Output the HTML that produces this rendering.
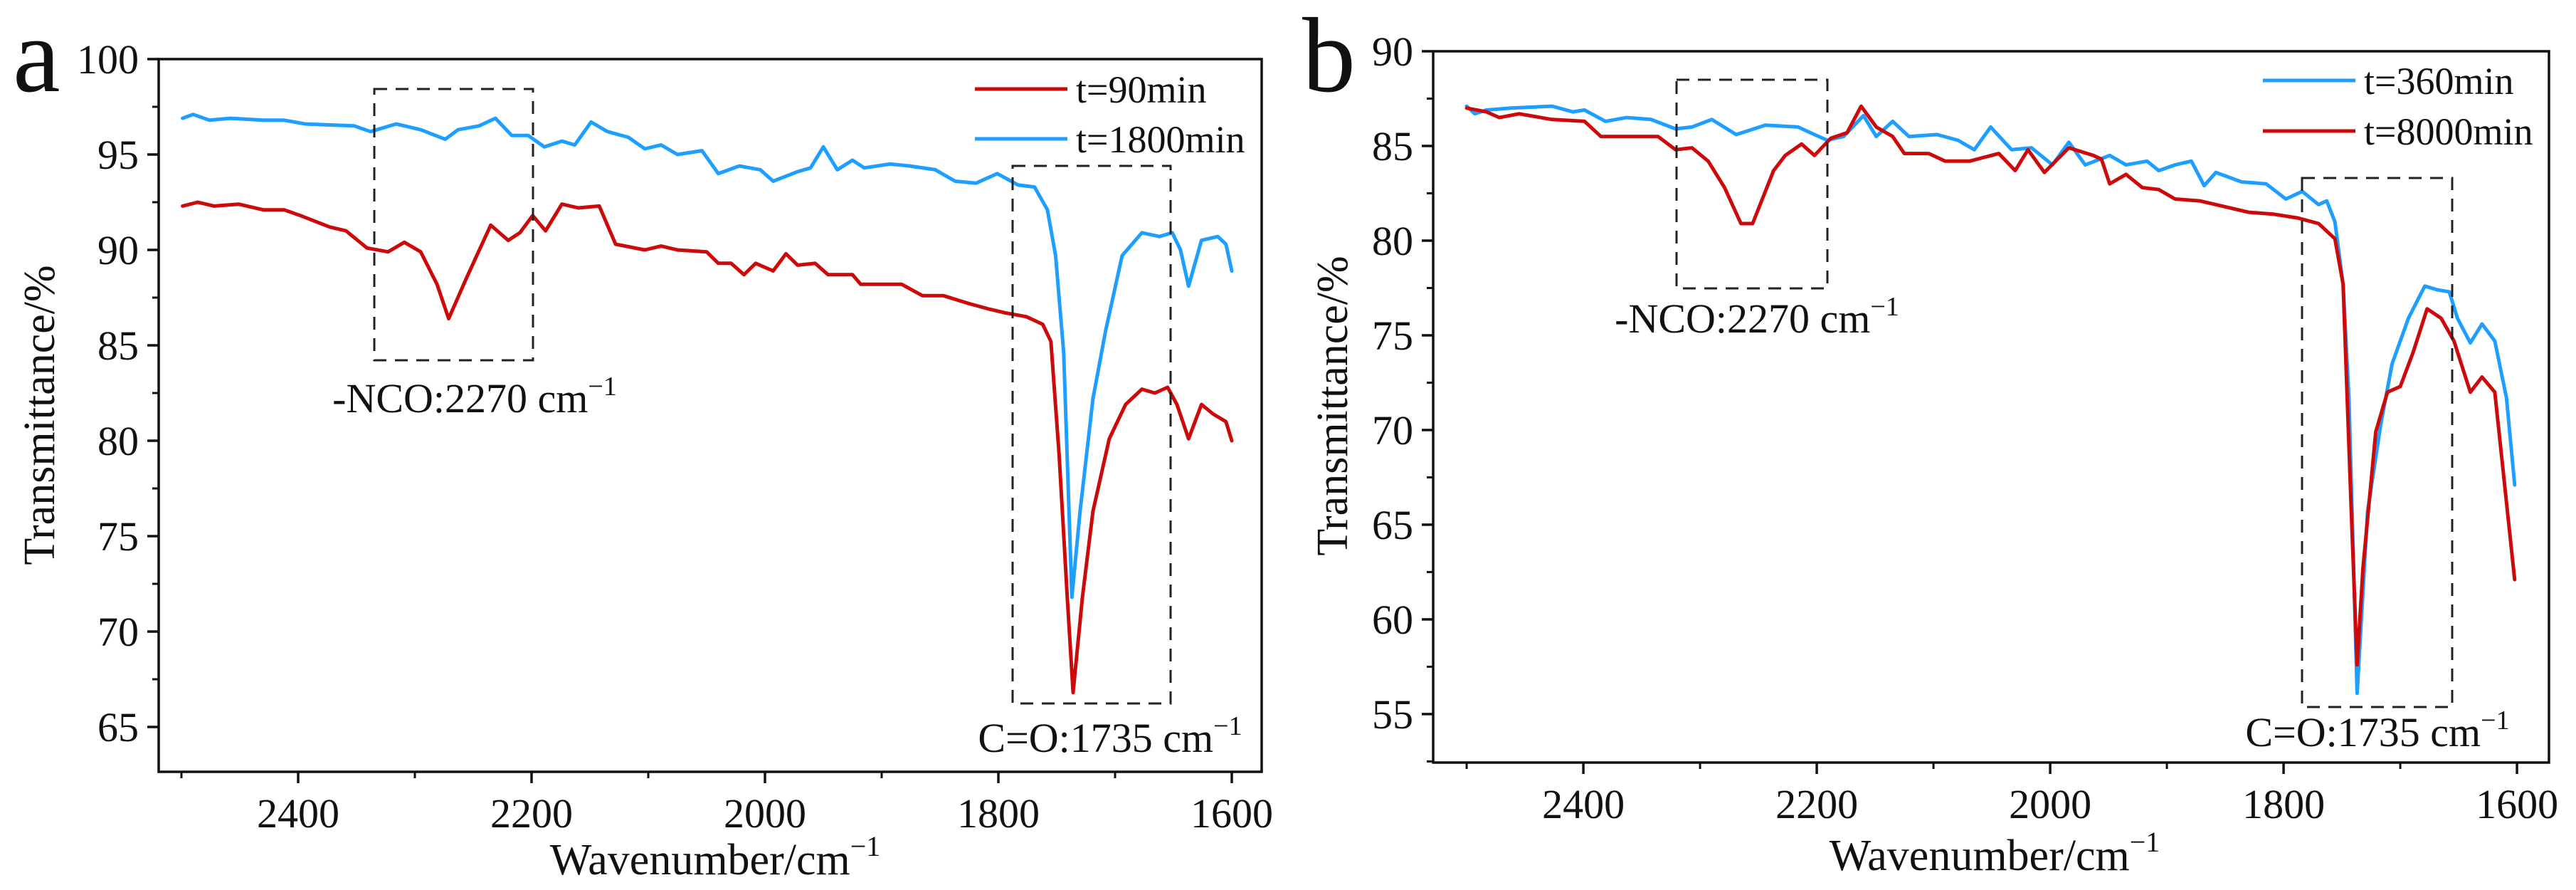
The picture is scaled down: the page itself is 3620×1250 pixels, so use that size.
<!DOCTYPE html>
<html><head><meta charset="utf-8"><style>
html,body{margin:0;padding:0;background:#fff;}
svg{display:block;font-family:"Liberation Serif","DejaVu Serif",serif;}
</style></head><body>
<svg id="fig" width="3620" height="1250" viewBox="0 0 3620 1250" xmlns="http://www.w3.org/2000/svg">
<rect width="3620" height="1250" fill="#fff"/>
</svg>
<script>
// ---- Panel a data ----
const aXTicks = [2400, 2200, 2000, 1800, 1600];
const aYTicks = [65, 70, 75, 80, 85, 90, 95, 100];
const aRedWn = [2499,2486,2472,2451,2430,2412,2398,2373,2359,2341,2323,2309,2295,2281,2271,2256,2235,2220,2210,2199,2188,2174,2160,2142,2128,2103,2089,2075,2050,2040,2029,2018,2008,1993,1982,1972,1957,1946,1925,1918,1897,1883,1865,1847,1826,1808,1794,1776,1762,1755,1748,1741,1736,1728,1719,1705,1691,1677,1666,1655,1647,1637,1626,1616,1605,1600];
const aRedT = [92.3,92.5,92.3,92.4,92.1,92.1,91.8,91.2,91.0,90.1,89.9,90.4,89.9,88.2,86.4,88.5,91.3,90.5,90.9,91.8,91.0,92.4,92.2,92.3,90.3,90.0,90.2,90.0,89.9,89.3,89.3,88.7,89.3,88.9,89.8,89.2,89.3,88.7,88.7,88.2,88.2,88.2,87.6,87.6,87.2,86.9,86.7,86.5,86.1,85.2,79.3,71.8,66.8,71.8,76.3,80.1,81.9,82.7,82.5,82.8,81.9,80.1,81.9,81.4,81.0,80.0];
const aBlueWn = [2499,2490,2476,2458,2430,2412,2394,2352,2338,2316,2295,2274,2263,2245,2231,2217,2203,2189,2174,2163,2149,2135,2117,2103,2089,2075,2054,2040,2022,2004,1993,1972,1961,1950,1938,1925,1915,1893,1876,1854,1837,1819,1801,1783,1769,1758,1751,1744,1737,1730,1719,1708,1694,1677,1662,1651,1644,1637,1626,1612,1605,1600];
const aBlueT = [96.9,97.1,96.8,96.9,96.8,96.8,96.6,96.5,96.2,96.6,96.3,95.8,96.3,96.5,96.9,96.0,96.0,95.4,95.7,95.5,96.7,96.2,95.9,95.3,95.5,95.0,95.2,94.0,94.4,94.2,93.6,94.1,94.3,95.4,94.2,94.7,94.3,94.5,94.4,94.2,93.6,93.5,94.0,93.4,93.3,92.1,89.7,84.6,71.8,76.3,82.2,85.8,89.7,90.9,90.7,90.9,90.0,88.1,90.5,90.7,90.3,88.9];
// ---- Panel b data ----
const bXTicks = [2400, 2200, 2000, 1800, 1600];
const bYTicks = [55, 60, 65, 70, 75, 80, 85, 90];
const bBlueWn = [2500,2493,2483,2462,2427,2409,2399,2381,2363,2342,2321,2307,2290,2269,2244,2216,2202,2191,2177,2160,2149,2135,2121,2097,2079,2065,2051,2033,2016,1998,1984,1970,1949,1935,1917,1907,1893,1879,1868,1858,1836,1815,1798,1784,1770,1763,1756,1749,1744,1737,1728,1717,1707,1693,1679,1668,1658,1651,1640,1630,1619,1609,1602];
const bBlueT = [87.1,86.7,86.9,87.0,87.1,86.8,86.9,86.3,86.5,86.4,85.9,86.0,86.4,85.6,86.1,86.0,85.6,85.3,85.5,86.6,85.5,86.3,85.5,85.6,85.3,84.8,86.0,84.8,84.9,84.0,85.2,84.0,84.5,84.0,84.2,83.7,84.0,84.2,82.9,83.6,83.1,83.0,82.2,82.6,81.9,82.1,81.0,77.7,71.7,56.1,65.7,70.2,73.5,75.9,77.6,77.4,77.3,75.9,74.6,75.6,74.7,71.7,67.1];
const bRedWn = [2500,2483,2472,2455,2427,2399,2385,2357,2336,2321,2307,2293,2279,2265,2255,2237,2227,2213,2202,2188,2174,2162,2149,2135,2125,2104,2090,2069,2044,2030,2019,2005,1984,1963,1956,1949,1935,1921,1907,1893,1872,1851,1830,1809,1788,1770,1756,1749,1742,1737,1732,1721,1711,1700,1689,1677,1665,1654,1640,1630,1619,1602];
const bRedT = [87.0,86.8,86.5,86.7,86.4,86.3,85.5,85.5,85.5,84.8,84.9,84.2,82.8,80.9,80.9,83.7,84.5,85.1,84.5,85.4,85.7,87.1,86.0,85.5,84.6,84.6,84.2,84.2,84.6,83.7,84.8,83.6,84.9,84.5,84.3,83.0,83.5,82.8,82.7,82.2,82.1,81.8,81.5,81.4,81.2,80.9,80.1,77.7,65.7,57.6,62.7,69.9,72.0,72.3,74.1,76.4,75.9,74.7,72.0,72.8,72.0,62.1];

const RED = "#cc0a0a", BLUE = "#1e9eff";
const svg = document.getElementById('fig');
const NS = "http://www.w3.org/2000/svg";
function mk(tag, attrs, parent){
  const e = document.createElementNS(NS, tag);
  for (const k in attrs) e.setAttribute(k, attrs[k]);
  (parent||svg).appendChild(e);
  return e;
}
function drawPanel(p){
  const g = mk('g', {});
  
  
  const xs = v => p.L + (p.wn0 - v) / (p.wn0 - p.wn1) * (p.R - p.L);
  const ys = v => p.T + (p.ymax - v) / (p.ymax - p.ymin) * (p.B - p.T);
  p.series.forEach(s => {
    const pts = s.wn.map((w, i) => xs(w).toFixed(1) + ',' + ys(s.t[i]).toFixed(1)).join(' ');
    const pl = mk('polyline', {points: pts, fill: 'none', stroke: s.color, 'stroke-width': 5, 'stroke-linejoin': 'round', 'stroke-linecap': 'round'}, g);
    
    
  });
  const fr = mk('rect', {x: p.L, y: p.T, width: p.R - p.L, height: p.B - p.T, fill: 'none', stroke: '#111', 'stroke-width': 3.5}, g);
  
  
  p.xTicks.forEach(v => {
    const x = xs(v);
    mk('line', {x1: x, x2: x, y1: p.B, y2: p.B + 16, stroke: '#111', 'stroke-width': 3.5}, g);
    const mx = xs(v + 100);
    mk('line', {x1: mx, x2: mx, y1: p.B, y2: p.B + 9, stroke: '#111', 'stroke-width': 3}, g);
    const t = mk('text', {x: x, y: p.B + 78, 'font-size': 58, 'text-anchor': 'middle', fill: '#111'}, g);
    t.textContent = v;
    
    
  });
  p.yTicks.forEach(v => {
    const y = ys(v);
    mk('line', {x1: p.L - 16, x2: p.L, y1: y, y2: y, stroke: '#111', 'stroke-width': 3.5}, g);
    const my = ys(v - 2.5);
    if (my < p.B) mk('line', {x1: p.L - 9, x2: p.L, y1: my, y2: my, stroke: '#111', 'stroke-width': 3}, g);
    const t = mk('text', {x: p.L - 28, y: y + 20, 'font-size': 58, 'text-anchor': 'end', fill: '#111'}, g);
    t.textContent = v;
    
    
  });
  const yt = mk('text', {x: 0, y: 0, 'font-size': 62, 'text-anchor': 'middle', fill: '#111', transform: 'translate(' + p.ytx + ',' + p.yty + ') rotate(-90)'}, g);
  yt.textContent = 'Transmittance/%';
  
  
  const xt = mk('text', {x: p.xtx, y: p.xty, 'font-size': 62, 'text-anchor': 'middle', fill: '#111'}, g);
  xt.innerHTML = 'Wavenumber/cm<tspan font-size="40" dy="-26">−1</tspan>';
  
  
  const pl = mk('text', {x: p.lx, y: p.ly, 'font-size': 150, fill: '#111'}, g);
  pl.textContent = p.letter;
  
  
  p.series.forEach((s, i) => {
    const ly = p.legY[i];
    const ln = mk('line', {x1: p.legX, x2: p.legX + 130, y1: ly, y2: ly, stroke: s.color, 'stroke-width': 5}, g);
    
    
    const t = mk('text', {x: p.legX + 142, y: ly + 19, 'font-size': 54, fill: '#111'}, g);
    t.textContent = s.label;
    
    
  });
  p.boxes.forEach(b => {
    const r = mk('rect', {x: b.x, y: b.y, width: b.w, height: b.h, fill: 'none', stroke: '#222', 'stroke-width': 3, 'stroke-dasharray': '18 12'}, g);
    
    
    const t = mk('text', {x: b.tx, y: b.ty, 'font-size': 58, 'text-anchor': 'middle', fill: '#111'}, g);
    t.innerHTML = b.label + ' cm<tspan font-size="38" dy="-24">−1</tspan>';
    
    
  });
}
drawPanel({
  name: 'panel-a', letter: 'a', lx: 18, ly: 128,
  L: 223, R: 1773, T: 83, B: 1084, wn0: 2519.5, wn1: 1574.4,
  ymax: 100, ymin: 62.65, xTicks: aXTicks, yTicks: aYTicks,
  ytx: 76, yty: 583, xtx: 1005, xty: 1228,
  legX: 1370, legY: [125, 195],
  series: [
    {id: 'series-t90min', label: 't=90min', color: RED, wn: aRedWn, t: aRedT},
    {id: 'series-t1800min', label: 't=1800min', color: BLUE, wn: aBlueWn, t: aBlueT}
  ],
  boxes: [
    {id: 'nco', x: 526, y: 125, w: 223, h: 381, tx: 667, ty: 579, label: '-NCO:2270'},
    {id: 'co', x: 1423, y: 233, w: 222, h: 755, tx: 1560, ty: 1056, label: 'C=O:1735'}
  ]
});
drawPanel({
  name: 'panel-b', letter: 'b', lx: 1830, ly: 128,
  L: 2014, R: 3582, T: 72, B: 1071, wn0: 2528.7, wn1: 1572.6,
  ymax: 90, ymin: 52.44, xTicks: bXTicks, yTicks: bYTicks,
  ytx: 1893, yty: 570, xtx: 2803, xty: 1222,
  legX: 3180, legY: [113, 184],
  series: [
    {id: 'series-t360min', label: 't=360min', color: BLUE, wn: bBlueWn, t: bBlueT},
    {id: 'series-t8000min', label: 't=8000min', color: RED, wn: bRedWn, t: bRedT}
  ],
  boxes: [
    {id: 'nco', x: 2356, y: 112, w: 212, h: 293, tx: 2469, ty: 467, label: '-NCO:2270'},
    {id: 'co', x: 3235, y: 250, w: 211, h: 743, tx: 3341, ty: 1048, label: 'C=O:1735'}
  ]
});
</script>
</body></html>
